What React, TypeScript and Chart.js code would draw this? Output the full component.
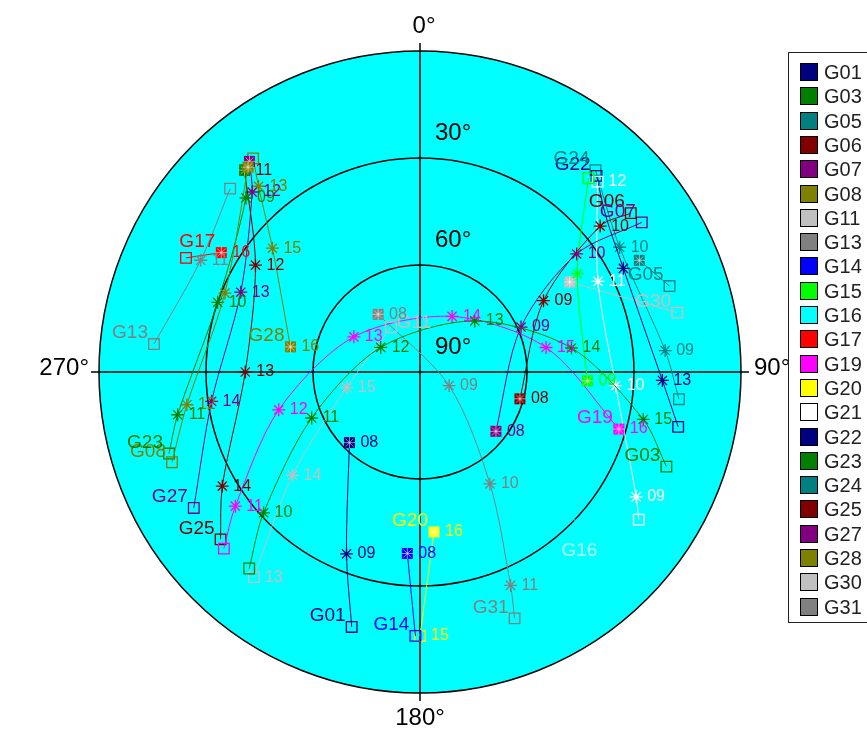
import React, { useEffect, useRef } from 'react';
import { Chart, registerables } from 'chart.js';

Chart.register(...registerables);

// Each track point: [azimuth°, elevation°, hour label, marker]
// marker: '*' hourly mark, 's' open square, 'f' filled square,
//         'sn' / 'fn' square carrying the satellite name on its left,
//         'sr' square carrying the name on its right, '' plain vertex
type Pt = [number, number, string, string];

const SATS = ['G01', 'G03', 'G05', 'G06', 'G07', 'G08', 'G11', 'G13', 'G14', 'G15', 'G16', 'G17',
  'G19', 'G20', 'G21', 'G22', 'G23', 'G24', 'G25', 'G27', 'G28', 'G30', 'G31'];

const COLORS = ['#000080', '#008000', '#008080', '#800000', '#800080', '#808000', '#C0C0C0', '#808080',
  '#0000FF', '#00FF00', '#00FFFF', '#FF0000', '#FF00FF', '#FFFF00', '#FFFFFF', '#000080', '#008000',
  '#008080', '#800000', '#800080', '#808000', '#C0C0C0', '#808080'];

const G01: Pt[] = [[225, 62, '08', 'f'], [202, 35, '09', '*'], [195, 16, '', 'sn']];
const G03: Pt[] = [[221, 17, '', 's'], [228, 31, '10', '*'], [247, 57, '11', '*'], [302, 77, '12', '*'],
  [47, 69, '13', '*'], [81, 47, '14', '*'], [102, 26, '15', '*'], [111, 16, '', 'sn']];
const G05: Pt[] = [[63, 21, '', 'f'], [71, 16, '', 'sn']];
const G06: Pt[] = [[105, 61, '08', 'f'], [60, 50, '09', '*'], [51, 25, '10', '*'], [53, 16, '', 'sn']];
const G07: Pt[] = [[128, 63, '08', 'f'], [66, 59, '09', '*'], [53, 35, '10', '*'], [56, 15, '', 'sn']];
const G08: Pt[] = [[320, 15, '', 'f'], [292, 31, '', '*'], [262, 24, '12', '*'], [250, 16, '', 'sn']];
const G11: Pt[] = [[219, 16, '13', 's'], [231, 44, '14', '*'], [258, 69, '15', '*'], [327, 75, '', 'sr']];
const G13: Pt[] = [[314, 16, '', 's'], [297, 21, '11', '*'], [276, 15, '', 'sn']];
const G14: Pt[] = [[184, 39, '08', 'f'], [181, 16, '', 'sn']];
const G15: Pt[] = [[93, 43, '09', 'f'], [58, 38, '', '*'], [41, 18, '', 's']];
const G16: Pt[] = [[129, 47, '', 's'], [136, 16, '', 'sn']];
const G17: Pt[] = [[296, 17, '', 's'], [301, 25, '16', 'fn']];
const G19: Pt[] = [[228, 16, '', 's'], [234, 26, '11', '*'], [255, 49, '12', '*'], [298, 69, '13', '*'],
  [30, 72, '14', '*'], [79, 54, '15', '*'], [106, 32, '16', 'fn']];
const G20: Pt[] = [[180, 16, '15', 's'], [175, 45, '16', 'fn']];
const G21: Pt[] = [[124, 16, '', 's'], [120, 20, '09', '*'], [94, 35, '10', '*'], [63, 34, '11', '*'],
  [43, 17, '12', 's']];
const G22: Pt[] = [[42, 16, '', 'sn'], [50, 22, '', ''], [63, 26, '', '*'], [92, 22, '13', '*'],
  [102, 16, '', 's']];
const G23: Pt[] = [[319, 15, '', 'f'], [315, 21, '09', '*'], [289, 30, '10', '*'], [260, 21, '11', '*'],
  [252, 16, '', 'sn']];
const G24: Pt[] = [[41, 15, '', 'sn'], [58, 24, '10', '*'], [85, 21, '09', '*'], [96, 17, '', 's']];
const G25: Pt[] = [[319, 15, '11', 'f'], [303, 35, '12', '*'], [270, 41, '13', '*'], [240, 26, '14', '*'],
  [230, 17, '', 'sn']];
const G27: Pt[] = [[321, 14, '', 'f'], [317, 21, '12', '*'], [294, 35, '13', '*'], [262, 31, '14', '*'],
  [239, 16, '', 'sn']];
const G28: Pt[] = [[322, 14, '', 's'], [319, 21, '13', '*'], [310, 36, '15', '*'], [281, 53, '16', 'fn']];
const G30: Pt[] = [[59, 41, '', 'f'], [77, 16, '', 'sn']];
const G31: Pt[] = [[324, 70, '08', 'f'], [115, 81, '09', '*'], [148, 53, '10', '*'], [157, 25, '11', '*'],
  [159, 16, '', 'sn']];

const TRACKS: Pt[][] = [G01, G03, G05, G06, G07, G08, G11, G13, G14, G15, G16, G17, G19, G20, G21, G22,
  G23, G24, G25, G27, G28, G30, G31];

// elevation rings (degrees) and their captions
const RINGS = [0, 30, 60];
const RING_LABELS = ['30°', '60°', '90°'];
const RING_LABEL_ELEV = [30, 60, 90];
const COMPASS = ['0°', '90°', '180°', '270°'];

const FONT = '"Liberation Sans", Arial, sans-serif';

function polar(az: number, el: number) {
  const r = 90 - el;
  const a = (az * Math.PI) / 180;
  return { x: r * Math.sin(a), y: r * Math.cos(a) };
}

function textColor(c: string) {
  return c === '#00FFFF' ? '#B4FFFF' : c;
}

function filledMarker(color: string) {
  const c = document.createElement('canvas');
  c.width = 13;
  c.height = 13;
  const g = c.getContext('2d')!;
  g.fillStyle = color;
  g.fillRect(1, 1, 11, 11);
  g.strokeStyle = color;
  g.lineWidth = 1;
  g.strokeRect(1.5, 1.5, 10, 10);
  g.strokeStyle = 'rgba(255,255,255,0.55)';
  g.beginPath();
  g.moveTo(6.5, 1); g.lineTo(6.5, 12);
  g.moveTo(1, 6.5); g.lineTo(12, 6.5);
  g.moveTo(2.5, 2.5); g.lineTo(10.5, 10.5);
  g.moveTo(10.5, 2.5); g.lineTo(2.5, 10.5);
  g.stroke();
  return c;
}

const skyPlugin = {
  id: 'sky',
  beforeDatasetsDraw(chart: any) {
    const { ctx } = chart;
    const xs = chart.scales.x;
    const ys = chart.scales.y;
    const cx = xs.getPixelForValue(0);
    const cy = ys.getPixelForValue(0);
    const rad = (el: number) => xs.getPixelForValue(90 - el) - cx;
    const R = rad(0);
    ctx.save();
    ctx.beginPath();
    ctx.arc(cx, cy, R, 0, Math.PI * 2);
    ctx.fillStyle = '#00FFFF';
    ctx.fill();
    ctx.strokeStyle = '#000';
    ctx.lineWidth = 1.5;
    RINGS.forEach((el) => {
      ctx.beginPath();
      ctx.arc(cx, cy, rad(el), 0, Math.PI * 2);
      ctx.stroke();
    });
    ctx.beginPath();
    ctx.moveTo(cx - R - 8, cy); ctx.lineTo(cx + R + 8, cy);
    ctx.moveTo(cx, cy - R - 8); ctx.lineTo(cx, cy + R + 8);
    ctx.stroke();

    ctx.fillStyle = '#000';
    ctx.font = `24px ${FONT}`;
    ctx.textBaseline = 'middle';
    ctx.textAlign = 'center';
    ctx.fillText(COMPASS[0], cx + 4, cy - R - 25);
    ctx.fillText(COMPASS[2], cx, cy + R + 25);
    ctx.textAlign = 'left';
    ctx.fillText(COMPASS[1], cx + R + 13, cy - 4);
    ctx.textAlign = 'right';
    ctx.fillText(COMPASS[3], cx - R - 10, cy - 4);
    ctx.textAlign = 'left';
    RING_LABEL_ELEV.forEach((el, i) => {
      ctx.fillText(RING_LABELS[i], cx + 15, cy - rad(el) - 25);
    });
    ctx.restore();
  },
  afterDatasetsDraw(chart: any) {
    const { ctx } = chart;
    ctx.save();
    ctx.textBaseline = 'middle';
    TRACKS.forEach((pts, i) => {
      const meta = chart.getDatasetMeta(i);
      const col = textColor(COLORS[i]);
      pts.forEach((p, j) => {
        const pe = meta.data[j];
        if (!pe) return;
        const { x, y } = pe;
        ctx.fillStyle = col;
        if (p[2]) {
          ctx.font = `16px ${FONT}`;
          ctx.textAlign = 'left';
          ctx.fillText(p[2], x + 11, y);
        }
        if (p[3] === 'sn' || p[3] === 'fn') {
          ctx.font = `19px ${FONT}`;
          ctx.textAlign = 'right';
          ctx.fillText(SATS[i], x - 6, y - 11);
        } else if (p[3] === 'sr') {
          ctx.font = `19px ${FONT}`;
          ctx.textAlign = 'left';
          ctx.fillText(SATS[i], x + 6, y - 4);
        }
      });
    });
    ctx.restore();
  },
};

export default function App() {
  const ref = useRef<HTMLCanvasElement | null>(null);

  useEffect(() => {
    if (!ref.current) return;
    const filled = COLORS.map(filledMarker);
    const styleFor = (m: string, i: number): any => {
      if (m[0] === 'f') return filled[i];
      if (m[0] === 's') return 'rect';
      if (m === '*') return 'star';
      return 'circle';
    };
    const radiusFor = (m: string) => {
      if (m[0] === 'f') return 6;
      if (m[0] === 's') return 7.5;
      if (m === '*') return 6.5;
      return 0;
    };
    const chart = new Chart(ref.current, {
      type: 'scatter',
      data: {
        datasets: TRACKS.map((pts, i) => ({
          label: SATS[i],
          data: pts.map(([az, el]) => polar(az, el)),
          showLine: true,
          borderColor: COLORS[i],
          borderWidth: 1,
          tension: 0.3,
          clip: false as any,
          pointStyle: pts.map((p) => styleFor(p[3], i)),
          pointRadius: pts.map((p) => radiusFor(p[3])),
          pointBorderColor: COLORS[i],
          pointBackgroundColor: pts.map((p) => (p[3][0] === 's' ? 'rgba(0,0,0,0)' : COLORS[i])),
          pointBorderWidth: 1.3,
        })),
      },
      options: {
        responsive: false,
        animation: false,
        events: [],
        layout: { padding: { left: 99, right: 126, top: 51, bottom: 37 } },
        scales: {
          x: { type: 'linear', min: -90, max: 90, display: false },
          y: { type: 'linear', min: -90, max: 90, display: false },
        },
        plugins: { legend: { display: false }, tooltip: { enabled: false } },
      },
      plugins: [skyPlugin],
    });
    return () => chart.destroy();
  }, []);

  return (
    <div style={{ position: 'absolute', left: 0, top: 0, width: 867, height: 730, background: '#fff', overflow: 'hidden' }}>
      <canvas ref={ref} width={867} height={730} style={{ display: 'block' }} />
      <div
        style={{
          position: 'absolute', left: 788, top: 52, width: 90, height: 571,
          border: '1.5px solid #222', boxSizing: 'border-box',
        }}
      />
      {SATS.map((s, i) => (
        <div
          key={s}
          style={{
            position: 'absolute', left: 800, top: 72 + i * 24.3 - 9, height: 18,
            display: 'flex', alignItems: 'center', fontFamily: FONT, fontSize: 20, color: '#222',
          }}
        >
          <span
            style={{
              display: 'inline-block', width: 16, height: 16, background: COLORS[i],
              border: '1px solid #000', marginRight: 6,
            }}
          />
          <span style={{ lineHeight: '18px' }}>{s}</span>
        </div>
      ))}
    </div>
  );
}
